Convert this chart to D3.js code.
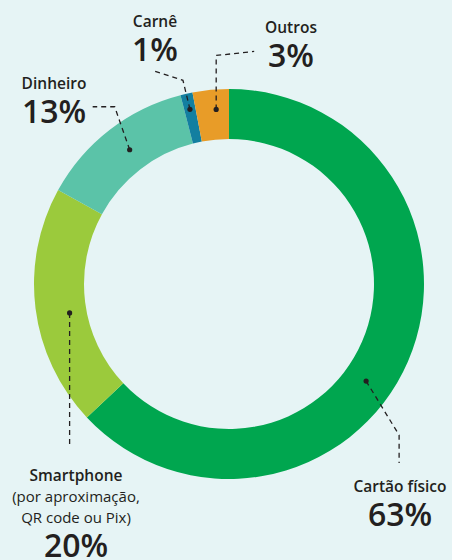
<!DOCTYPE html>
<html lang="pt">
<head>
<meta charset="utf-8">
<title>Meios de pagamento</title>
<script src="https://d3js.org/d3.v7.min.js"></script>
<style>
  html, body { margin: 0; padding: 0; background: #e6f4f5; }
  text { font-family: "Open Sans", sans-serif; fill: #231f20; }
  .name { font-weight: 600; font-size: 15.5px; }
  .sub { font-weight: 400; font-size: 15px; }
  .pct { font-weight: 600; font-size: 32px; }
</style>
</head>
<body>
<script>
// data
var categories = ["Cartão físico", "Smartphone", "Dinheiro", "Carnê", "Outros"];
var values = [63, 20, 13, 1, 3];
var colors = ["#00a64f", "#9bca3c", "#5bc3a8", "#137fa0", "#e89c28"];
var subLabels = [[], ["(por aproximação,", "QR code ou Pix)"], [], [], []];

var w = 452, h = 560;
var cx = 229, cy = 284;
var outerR = 195, innerR = 145;

// where each annotation dot sits (angle in degrees, radius), the leader bends
// relative to the dot, and the label block anchor
var notes = [
  { ang: 125.3, r: 168, leader: [[33, 54], [33, 82]], lx: 400, ly: 492 },
  { ang: 259.7, r: 162, leader: [[0, 135]], lx: 76, ly: 481 },
  { ang: 323.5, r: 167, leader: [[-15, -43], [-37, -43]], lx: 54, ly: 89 },
  { ang: 347.4, r: 179, leader: [[-7, -29], [-35, -38]], lx: 155, ly: 27 },
  { ang: 355.8, r: 175, leader: [[0, -54], [38, -58]], lx: 291, ly: 33 }
];

var svg = d3.select("body").append("svg")
  .attr("width", w)
  .attr("height", h);

svg.append("rect")
  .attr("width", w)
  .attr("height", h)
  .attr("fill", "#e6f4f5");

var rows = categories.map(function(c, i) {
  return { name: c, value: values[i], color: colors[i], sub: subLabels[i], note: notes[i] };
});

var pie = d3.pie().sort(null).value(function(d) { return d.value; });
var arc = d3.arc().innerRadius(innerR).outerRadius(outerR);

var g = svg.append("g").attr("transform", "translate(" + cx + "," + cy + ")");

g.selectAll("path.slice")
  .data(pie(rows))
  .enter()
  .append("path")
  .attr("class", "slice")
  .attr("d", arc)
  .attr("fill", function(d) { return d.data.color; });

// polar -> xy, angle measured clockwise from 12 o'clock
function polar(deg, r) {
  var a = deg * Math.PI / 180;
  return [cx + r * Math.sin(a), cy - r * Math.cos(a)];
}

rows.forEach(function(d) {
  var p = polar(d.note.ang, d.note.r);
  var pts = [p].concat(d.note.leader.map(function(o) { return [p[0] + o[0], p[1] + o[1]]; }));

  svg.append("path")
    .attr("d", d3.line()(pts))
    .attr("fill", "none")
    .attr("stroke", "#231f20")
    .attr("stroke-width", 1.3)
    .attr("stroke-dasharray", "5,4");

  svg.append("circle")
    .attr("cx", p[0])
    .attr("cy", p[1])
    .attr("r", 2.6)
    .attr("fill", "#231f20");

  var y = d.note.ly;
  svg.append("text")
    .attr("class", "name")
    .attr("x", d.note.lx)
    .attr("y", y)
    .attr("text-anchor", "middle")
    .text(d.name);

  d.sub.forEach(function(s) {
    y += 21;
    svg.append("text")
      .attr("class", "sub")
      .attr("x", d.note.lx)
      .attr("y", y)
      .attr("text-anchor", "middle")
      .text(s);
  });

  svg.append("text")
    .attr("class", "pct")
    .attr("x", d.note.lx)
    .attr("y", y + 34)
    .attr("text-anchor", "middle")
    .text(d.value + "%");
});
</script>
</body>
</html>
